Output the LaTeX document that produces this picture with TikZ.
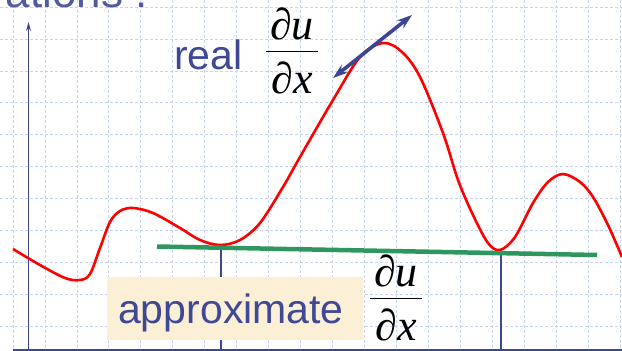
\documentclass[tikz,border=0pt]{standalone}
\usepackage{fontspec}
\setmainfont{Liberation Sans}
\newfontfamily\fr{Liberation Serif}
\usetikzlibrary{arrows.meta}
\definecolor{gridc}{RGB}{200,210,245}
\definecolor{axisc}{RGB}{60,70,145}
\definecolor{txtc}{RGB}{63,72,149}
\definecolor{greenc}{RGB}{46,150,95}
\definecolor{beige}{RGB}{251,239,214}
\definecolor{titlec}{RGB}{80,90,160}
\newcommand{\pdfrac}[2]{\fr\vbox{\offinterlineskip\halign{\hfil\kern4pt##\kern4pt\hfil\cr
  ∂\textit{#1}\cr\noalign{\kern10pt\hrule height 1.8pt\kern9pt}∂\textit{#2}\cr}}}
\tikzset{
  gridline/.style={draw=gridc, line width=0.8pt, dash pattern=on 3pt off 2pt},
  axisline/.style={draw=axisc, line width=1.4pt},
  curveline/.style={draw=red, line width=2.6pt, line join=round},
  tangentline/.style={draw=axisc, line width=3.6pt, {Stealth[length=15pt,width=10pt,inset=5pt]}-{Stealth[length=15pt,width=10pt,inset=5pt]}},
  approxline/.style={draw=greenc, line width=4.5pt},
  labeltext/.style={inner sep=0pt, text=txtc, font=\fontsize{41}{45}\selectfont},
  fractext/.style={inner sep=0pt, anchor=north, text=black, font=\fontsize{44}{48}\selectfont},
}
\begin{document}
\begin{tikzpicture}[x=1pt,y=-1pt]
\useasboundingbox (0,0) rectangle (622,351);
% grid
\foreach \k in {0,...,19} \draw[gridline] (13+31.95*\k,0) -- (13+31.95*\k,351);
\foreach \k in {0,...,10} \draw[gridline] (0,7+31.95*\k) -- (622,7+31.95*\k);
% title fragment (cut off at the top edge, as in the reference)
\node[anchor=base east, inner sep=0pt, text=titlec, font=\fontsize{44}{48}\selectfont] (title) at (148,7) {ations :};
% axes
\coordinate (yb) at (28.5,351);
\coordinate (yt) at (28.5,22);
\coordinate (xl) at (13,350);
\coordinate (xr) at (622,350);
\draw[axisline, -{Stealth[length=9pt,width=5pt]}] (yb) -- (yt);
\draw[axisline] (xl) -- (xr);
% vertical markers
\coordinate (m1t) at (221,246);
\coordinate (m1b) at (221,351);
\coordinate (m2t) at (501,252);
\coordinate (m2b) at (501,351);
\draw[axisline, line width=1.2pt] (m1t) -- (m1b);
\draw[axisline, line width=1.2pt] (m2t) -- (m2b);
% curve
\draw[curveline] plot[smooth, tension=0.55] coordinates {
(13,249) (40,265) (65,278) (80,280) (90,274) (100,248) (110,222) (120,211) (133,208)
(153,213) (180,228) (200,240) (220,245) (240,240) (260,223) (283,187) (300,157)
(333,100) (360,57) (383,43) (402,52) (420,77) (443,133) (458,180) (473,215)
(488,243) (500,250) (515,237) (533,203) (548,182) (563,174) (580,182) (593,197)
(608,225) (622,257)};
% green approximation line
\coordinate (gl) at (157,246.5);
\coordinate (gr) at (597,255);
\draw[approxline] (gl) -- (gr);
% tangent arrow
\coordinate (ta) at (333,78);
\coordinate (tb) at (412,15);
\draw[tangentline] (ta) -- (tb);
% labels
\node[labeltext, anchor=base west] (real) at (174,69) {real};
\node[fractext] (rfrac) at (292,8) {\pdfrac{u}{x}};
\node[fill=beige, minimum width=256pt, minimum height=63pt, inner sep=0pt] (box) at (235,308.5) {};
\node[labeltext, anchor=base west] (approx) at (118,323) {approximate};
\node[fractext] (afrac) at (396,255) {\pdfrac{u}{x}};
\end{tikzpicture}
\end{document}
